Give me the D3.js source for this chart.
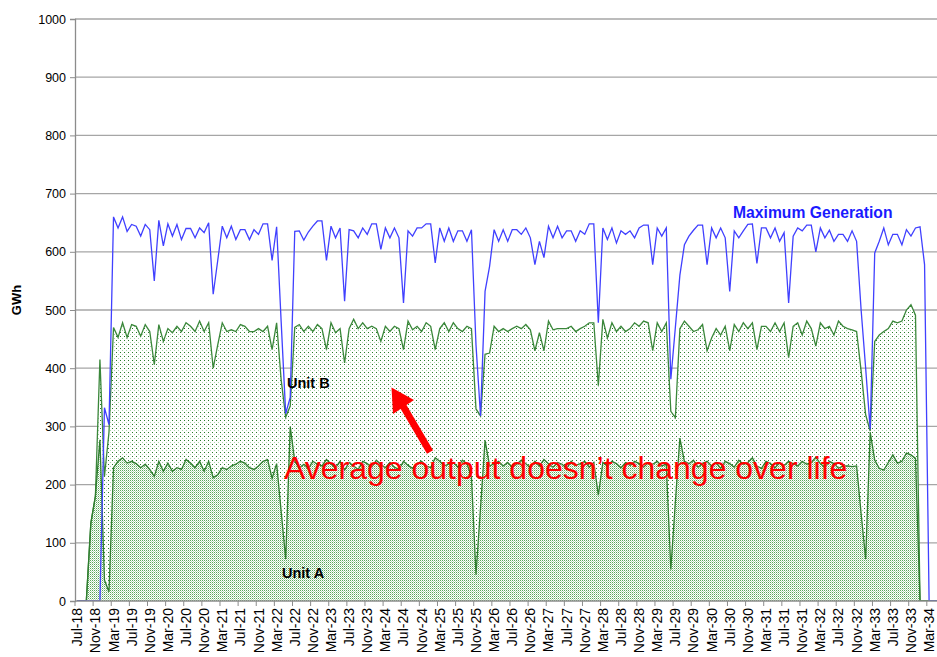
<!DOCTYPE html>
<html><head><meta charset="utf-8">
<script src="https://cdn.jsdelivr.net/npm/d3@7"></script>
<style>body{margin:0;background:#fff;} svg{display:block;font-family:Arial,"Liberation Sans",sans-serif;}</style>
</head><body><svg id="chart" width="937" height="657"></svg>
<script>
const months = [
"Jul-18","Aug-18","Sep-18","Oct-18","Nov-18","Dec-18",
"Jan-19","Feb-19","Mar-19","Apr-19","May-19","Jun-19","Jul-19","Aug-19","Sep-19","Oct-19","Nov-19","Dec-19",
"Jan-20","Feb-20","Mar-20","Apr-20","May-20","Jun-20","Jul-20","Aug-20","Sep-20","Oct-20","Nov-20","Dec-20",
"Jan-21","Feb-21","Mar-21","Apr-21","May-21","Jun-21","Jul-21","Aug-21","Sep-21","Oct-21","Nov-21","Dec-21",
"Jan-22","Feb-22","Mar-22","Apr-22","May-22","Jun-22","Jul-22","Aug-22","Sep-22","Oct-22","Nov-22","Dec-22",
"Jan-23","Feb-23","Mar-23","Apr-23","May-23","Jun-23","Jul-23","Aug-23","Sep-23","Oct-23","Nov-23","Dec-23",
"Jan-24","Feb-24","Mar-24","Apr-24","May-24","Jun-24","Jul-24","Aug-24","Sep-24","Oct-24","Nov-24","Dec-24",
"Jan-25","Feb-25","Mar-25","Apr-25","May-25","Jun-25","Jul-25","Aug-25","Sep-25","Oct-25","Nov-25","Dec-25",
"Jan-26","Feb-26","Mar-26","Apr-26","May-26","Jun-26","Jul-26","Aug-26","Sep-26","Oct-26","Nov-26","Dec-26",
"Jan-27","Feb-27","Mar-27","Apr-27","May-27","Jun-27","Jul-27","Aug-27","Sep-27","Oct-27","Nov-27","Dec-27",
"Jan-28","Feb-28","Mar-28","Apr-28","May-28","Jun-28","Jul-28","Aug-28","Sep-28","Oct-28","Nov-28","Dec-28",
"Jan-29","Feb-29","Mar-29","Apr-29","May-29","Jun-29","Jul-29","Aug-29","Sep-29","Oct-29","Nov-29","Dec-29",
"Jan-30","Feb-30","Mar-30","Apr-30","May-30","Jun-30","Jul-30","Aug-30","Sep-30","Oct-30","Nov-30","Dec-30",
"Jan-31","Feb-31","Mar-31","Apr-31","May-31","Jun-31","Jul-31","Aug-31","Sep-31","Oct-31","Nov-31","Dec-31",
"Jan-32","Feb-32","Mar-32","Apr-32","May-32","Jun-32","Jul-32","Aug-32","Sep-32","Oct-32","Nov-32","Dec-32",
"Jan-33","Feb-33","Mar-33","Apr-33","May-33","Jun-33","Jul-33","Aug-33","Sep-33","Oct-33","Nov-33","Dec-33",
"Jan-34","Feb-34","Mar-34","Apr-34","May-34"];

const tickLabels = ["Jul-18","Nov-18","Mar-19","Jul-19","Nov-19","Mar-20","Jul-20","Nov-20","Mar-21","Jul-21","Nov-21",
"Mar-22","Jul-22","Nov-22","Mar-23","Jul-23","Nov-23","Mar-24","Jul-24","Nov-24","Mar-25","Jul-25","Nov-25",
"Mar-26","Jul-26","Nov-26","Mar-27","Jul-27","Nov-27","Mar-28","Jul-28","Nov-28","Mar-29","Jul-29","Nov-29",
"Mar-30","Jul-30","Nov-30","Mar-31","Jul-31","Nov-31","Mar-32","Jul-32","Nov-32","Mar-33","Jul-33","Nov-33","Mar-34"];

const yTicks = [0,100,200,300,400,500,600,700,800,900,1000];

const maxGeneration = [
0,0,0,0,0,0,332,303,660,641,
660,635,647,644,627,647,638,550,654,610,
648,627,647,621,640,640,624,641,633,650,
527,585,644,624,644,621,638,638,621,638,
630,648,648,585,643,480,322,350,635,636,
620,634,644,653,653,585,644,624,641,515,
638,636,624,641,630,648,648,604,641,624,
641,624,512,636,627,641,641,648,648,581,
641,618,641,618,636,636,618,638,440,318,
532,575,638,618,638,618,638,638,630,641,
624,578,618,590,644,624,644,624,636,636,
618,636,630,648,648,478,641,621,641,615,
636,630,636,624,641,646,646,578,641,627,
641,381,470,560,612,627,637,646,646,578,
641,624,641,624,532,636,624,636,647,648,
580,641,641,624,641,618,633,512,627,641,
636,646,646,600,641,624,637,618,630,630,
618,636,618,500,400,295,598,618,641,612,
630,630,612,638,627,641,643,578,0,0,
0];

const unitA = [
0,0,0,134,180,277,36,16,229,240,
246,237,240,236,229,235,226,214,240,223,
237,223,229,226,243,237,229,240,223,240,
212,217,229,226,232,235,240,237,229,226,
232,240,243,211,236,154,72,300,240,229,
235,228,240,235,232,243,236,229,240,225,
238,232,226,240,236,230,242,235,229,238,
230,226,240,233,228,236,240,232,229,246,
240,232,235,238,230,242,236,213,45,160,
276,232,236,240,232,238,230,235,242,236,
229,240,232,243,236,230,238,235,228,240,
233,236,240,230,238,182,238,232,240,236,
229,238,233,240,236,230,238,235,240,232,
235,54,170,280,240,236,242,230,236,240,
232,238,228,240,236,230,242,235,238,246,
232,228,240,236,229,238,233,240,236,232,
240,235,238,247,236,230,240,236,228,232,
232,231,232,150,72,290,242,228,225,238,
251,237,240,254,251,245,0,0,0,0,
0];

const unitB = [
0,0,0,0,0,138,178,274,241,213,
232,216,235,236,226,240,237,192,235,223,
231,238,243,237,235,235,234,241,240,238,
188,223,249,237,234,228,235,235,234,237,
236,223,229,221,242,226,244,35,230,246,
228,244,223,240,236,189,242,232,228,184,
230,252,242,238,232,242,226,211,243,225,
242,242,192,248,238,236,223,246,243,186,
228,246,228,240,238,221,236,255,285,158,
148,194,236,223,236,225,238,237,226,239,
237,190,229,187,245,236,230,233,240,232,
230,232,232,248,240,188,246,220,238,227,
243,225,235,238,236,251,240,195,238,231,
243,272,145,188,241,236,221,236,239,190,
220,230,229,232,194,245,221,243,230,232,
200,244,232,227,249,225,245,178,236,246,
217,246,230,191,242,238,232,221,253,240,
236,235,231,245,248,2,204,229,238,230,
230,241,241,246,258,246,0,0,0,0,
0];

(function () {
const svg = d3.select("#chart");
const pl = 75, pb = 601, pt = 19, pr = 937;
const monthW = 4.531;
const x = d3.scaleBand().domain(months).range([pl, pl + months.length * monthW]).paddingInner(0).paddingOuter(0);
const y = d3.scaleLinear().domain([0, 1000]).range([pb, pt]);
const cx = m => x(m) + x.bandwidth() / 2;

const defs = svg.append("defs");
const pA = defs.append("pattern").attr("id","patA").attr("patternUnits","userSpaceOnUse").attr("width",2).attr("height",2);
pA.append("rect").attr("width",2).attr("height",2).attr("fill","#ffffff");
pA.append("rect").attr("width",1).attr("height",1).attr("fill","#5aa65a");
pA.append("rect").attr("x",1).attr("y",1).attr("width",1).attr("height",1).attr("fill","#b5dbb5");
const pB = defs.append("pattern").attr("id","patB").attr("patternUnits","userSpaceOnUse").attr("width",4).attr("height",4);
pB.append("rect").attr("width",4).attr("height",4).attr("fill","#ffffff");
pB.append("rect").attr("width",1).attr("height",1).attr("fill","#2a7a2a");
pB.append("rect").attr("x",2).attr("y",2).attr("width",1).attr("height",1).attr("fill","#a8d4a8");
defs.append("clipPath").attr("id","plotClip").append("rect").attr("x",pl).attr("y",pt-2).attr("width",pr-pl).attr("height",pb-pt+2);

svg.append("g").selectAll("line").data(yTicks.filter(d => d > 0)).join("line")
  .attr("x1", pl).attr("x2", pr).attr("y1", d => y(d)).attr("y2", d => y(d))
  .attr("stroke", "#a6a6a6").attr("stroke-width", 1.3);

const rows = months.map((m, i) => ({ month: m, A: unitA[i], B: unitB[i], max: maxGeneration[i] }));
const stacked = d3.stack().keys(["A", "B"])(rows);

const plot = svg.append("g").attr("clip-path", "url(#plotClip)");
const area = d3.area().x(d => cx(d.data.month)).y0(d => y(d[0])).y1(d => y(d[1]));
plot.append("path").datum(stacked[1]).attr("d", area).attr("fill", "url(#patB)");
plot.append("path").datum(stacked[0]).attr("d", area).attr("fill", "url(#patA)");

const topLine = d3.line().x(d => cx(d.data.month)).y(d => y(d[1]));
plot.append("path").datum(stacked[1]).attr("d", topLine).attr("fill", "none").attr("stroke", "#3a873a").attr("stroke-width", 1.3);
plot.append("path").datum(stacked[0]).attr("d", topLine).attr("fill", "none").attr("stroke", "#2e7d2e").attr("stroke-width", 1.3);

const maxLine = d3.line().x(d => cx(d.month)).y(d => y(d.max));
plot.append("path").datum(rows).attr("d", maxLine).attr("fill", "none").attr("stroke", "#4040ff").attr("stroke-width", 1.3);

const yAxis = svg.append("g").attr("transform", `translate(${pl},0)`)
  .call(d3.axisLeft(y).tickValues(yTicks).tickSize(5).tickPadding(4).tickFormat(d3.format("d")));
yAxis.select(".domain").attr("stroke", "#8c8c8c").attr("stroke-width", 1.3);
yAxis.selectAll(".tick line").attr("stroke", "#8c8c8c");
yAxis.selectAll("text").attr("font-size", 12.5).attr("fill", "#000").attr("font-family", "Arial, Liberation Sans, sans-serif");

const xg = svg.append("g");
xg.append("line").attr("x1", pl).attr("x2", pr).attr("y1", pb).attr("y2", pb).attr("stroke", "#8c8c8c").attr("stroke-width", 1.3);
xg.selectAll("line.tk").data(tickLabels).join("line").attr("class","tk")
  .attr("x1", d => x(d)).attr("x2", d => x(d)).attr("y1", pb).attr("y2", pb + 5).attr("stroke", "#8c8c8c");
xg.selectAll("text").data(tickLabels).join("text")
  .attr("transform", d => `translate(${cx(d) + 5},${pb + 7}) rotate(-90)`)
  .attr("text-anchor", "end").attr("font-size", 14).attr("fill", "#000").text(d => d);

svg.append("text").attr("transform", "translate(21,300) rotate(-90)").attr("text-anchor", "middle")
  .attr("font-size", 13).attr("font-weight", "bold").text("GWh");

svg.append("text").attr("x", 733).attr("y", 218).attr("font-size", 15.7).attr("font-weight", "bold").attr("fill", "#1a1aff").text("Maximum Generation");
svg.append("text").attr("x", 287).attr("y", 388).attr("font-size", 14.5).attr("font-weight", "bold").attr("fill", "#000").text("Unit B");
svg.append("text").attr("x", 282).attr("y", 578).attr("font-size", 14.5).attr("font-weight", "bold").attr("fill", "#000").text("Unit A");
svg.append("text").attr("x", 284).attr("y", 479).attr("font-size", 32).attr("fill", "#ff0000").text("Average output doesn\u2019t change over life");

svg.append("polygon").attr("points", "391.5,387.5 393,414 414,400").attr("fill", "#ff0000");
svg.append("line").attr("x1", 403).attr("y1", 406).attr("x2", 430).attr("y2", 452).attr("stroke", "#ff0000").attr("stroke-width", 7);
})();
</script></body></html>
